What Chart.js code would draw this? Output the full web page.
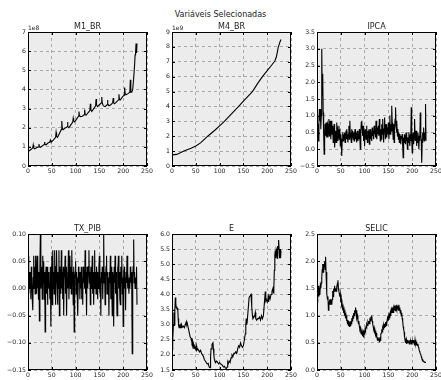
<!DOCTYPE html>
<html>
<head>
<meta charset="utf-8">
<title>Variáveis Selecionadas</title>
<script src="https://cdn.jsdelivr.net/npm/chart.js@4.4.0/dist/chart.umd.min.js"></script>
<style>
    html, body { margin: 0; padding: 0; background: #fff; }
    body { width: 441px; height: 380px; position: relative; overflow: hidden; font-family: "DejaVu Sans", sans-serif; }
    #suptitle { position: absolute; left: 0; top: 11px; width: 441px; text-align: center; font-size: 8px; line-height: 8px; color: #222; }
    canvas { position: absolute; }
</style>
</head>
<body>
<div id="suptitle">Variáveis Selecionadas</div>
<canvas id="c0"></canvas>
<canvas id="c1"></canvas>
<canvas id="c2"></canvas>
<canvas id="c3"></canvas>
<canvas id="c4"></canvas>
<canvas id="c5"></canvas>
<script>
// x axis ticks (shared by all panels)
const X_TICKS = [0, 50, 100, 150, 200, 250];

// M1_BR (units of 1e8), read at selected months
const M1_X = [0, 4, 8, 10, 11, 12, 14, 18, 22, 23, 24, 26, 30, 34, 35, 36, 38, 42, 46, 47, 48, 50, 54, 58, 59, 60, 62, 66, 70, 71, 72, 74, 78, 82, 83, 84, 86, 90, 94, 95, 96, 98, 102, 106, 107, 108, 110, 114, 118, 119, 120, 122, 126, 130, 131, 132, 134, 138, 142, 143, 144, 146, 150, 154, 155, 156, 158, 162, 166, 167, 168, 170, 174, 178, 179, 180, 182, 186, 190, 191, 192, 194, 198, 202, 203, 204, 206, 210, 214, 215, 216, 218, 220, 222, 224, 225, 226, 227, 228, 229];
const M1_Y = [0.75, 0.82, 0.9, 0.95, 1.1, 0.95, 0.9, 0.95, 1.0, 1.15, 1.0, 0.97, 1.05, 1.12, 1.25, 1.12, 1.1, 1.2, 1.26, 1.35, 1.28, 1.27, 1.38, 1.5, 1.75, 1.55, 1.5, 1.7, 1.9, 2.35, 2.0, 1.9, 1.98, 2.05, 2.3, 2.05, 2.0, 2.15, 2.3, 2.5, 2.35, 2.3, 2.45, 2.6, 2.85, 2.65, 2.58, 2.6, 2.68, 2.95, 2.7, 2.65, 2.78, 2.9, 3.25, 2.95, 2.85, 3.0, 3.15, 3.5, 3.2, 3.1, 3.2, 3.3, 3.6, 3.3, 3.15, 3.1, 3.2, 3.45, 3.25, 3.15, 3.2, 3.3, 3.55, 3.3, 3.25, 3.35, 3.45, 3.75, 3.5, 3.45, 3.6, 3.7, 4.1, 3.8, 3.72, 3.78, 3.85, 4.5, 3.85, 3.85, 4.0, 4.6, 5.3, 5.8, 5.9, 6.4, 5.9, 6.4];

// M4_BR (units of 1e9)
const M4_X = [0, 10, 25, 40, 50, 60, 75, 90, 100, 110, 125, 140, 150, 160, 169, 180, 190, 200, 210, 216, 219, 221, 223, 225, 227, 229];
const M4_Y = [0.75, 0.78, 1.0, 1.2, 1.35, 1.55, 2.0, 2.4, 2.7, 3.0, 3.5, 4.0, 4.35, 4.7, 5.0, 5.55, 6.0, 6.4, 6.8, 7.05, 7.3, 7.6, 7.95, 8.15, 8.35, 8.5];

// IPCA, monthly from month 0
const IPCA = [
    0.55, 0.35, 0.75, 0.25, 0.8, 1.2, 0.85, 1.2, 0.6, 1.0,
    3.0, 1.6, 2.25, 1.1, 0.45, -0.15, 0.3, 0.75, 0.4, 0.8,
    0.35, 0.65, 0.75, 0.35, 0.55, 0.9, 0.4, 0.7, 0.85, 0.3,
    0.6, 0.85, 0.45, 0.7, 0.2, 0.5, 0.75, 0.05, 0.35, 0.55,
    0.2, 0.8, 0.5, 0.6, 0.25, 0.45, 0.7, 0.3, 0.6, 0.1,
    0.45, 0.25, -0.2, 0.3, 0.5, 0.25, 0.45, 0.3, 0.5, 0.2,
    0.4, 0.55, 0.3, 0.6, 0.35, 0.2, 0.45, 0.7, 0.3, 0.85,
    0.4, 0.5, 0.2, 0.6, 0.35, 0.55, 0.3, 0.5, 0.25, 0.45,
    0.6, 0.3, 0.5, 0.2, 0.4, 0.55, 0.25, 0.45, 0.3, 0.6,
    0.35, 0.0, 0.5, 0.8, 0.85, 0.6, 0.4, 0.7, 0.25, 0.55,
    0.1, 0.6, 0.5, 0.3, 0.7, 0.45, 0.2, 0.55, 0.35, 0.6,
    0.15, 0.45, 0.6, 0.3, 0.5, 0.25, 0.65, 0.4, 0.55, 0.3,
    0.7, 0.45, 0.6, 0.35, 0.85, 0.5, 0.3, 0.65, 0.45, 0.7,
    0.4, 0.9, 0.55, 0.25, 0.6, 0.3, 0.75, 0.45, 0.9, 0.5,
    0.2, 0.6, 0.95, 0.55, 0.3, 0.75, 0.5, 0.35, 0.65, 0.45,
    0.8, 0.3, 0.6, 1.0, 0.45, 0.75, 0.55, 1.3, 0.8, 0.6,
    0.3, 0.75, 0.2, 0.6, 0.9, 1.25, 0.7, 0.5, 0.85, 0.4,
    0.6, 0.3, 0.5, 0.2, 0.45, 0.35, 0.15, 0.4, 0.3, 0.45,
    0.1, -0.25, 0.35, 0.2, 0.45, 0.3, 0.15, 0.5, 0.25, 0.4,
    0.0, 0.35, 0.2, 0.5, 0.3, 0.1, 0.45, 0.25, 1.25, 0.3,
    -0.1, 0.4, 0.5, 0.15, 0.3, 0.9, 0.4, 0.25, 0.55, 0.1,
    0.35, 0.2, 0.5, 0.3, 0.0, 0.4, 0.25, 1.1, 0.45, 0.3,
    -0.4, 0.2, 0.5, 0.3, 0.65, 0.25, 0.5, 0.3, 1.35, 0.25
];

// TX_PIB, monthly from month 0
const TX_PIB = [
    0.01, 0.06, -0.01, 0.03, 0.0, 0.03, -0.02, 0.04, 0.02, -0.02,
    -0.04, 0.02, 0.06, 0.0, 0.04, -0.01, 0.06, 0.02, -0.01, 0.06,
    0.0, 0.04, -0.02, 0.03, -0.06, 0.04, 0.10, 0.0, 0.02, 0.04,
    -0.02, 0.06, 0.01, 0.05, -0.02, 0.03, -0.08, 0.02, 0.04, -0.01,
    0.04, -0.03, 0.02, 0.03, 0.0, 0.01, -0.02, 0.04, -0.07, 0.02,
    0.06, -0.03, 0.07, 0.0, 0.03, -0.01, 0.07, 0.02, -0.03, 0.04,
    0.07, 0.01, -0.03, 0.03, 0.0, 0.07, -0.05, 0.04, 0.02, -0.01,
    0.07, 0.0, 0.03, -0.02, 0.04, -0.05, 0.03, 0.02, 0.06, -0.01,
    0.04, -0.05, 0.02, 0.03, 0.0, 0.07, -0.02, 0.03, 0.06, 0.0,
    0.04, -0.01, 0.07, 0.01, 0.03, -0.03, 0.04, -0.08, 0.02, 0.03,
    0.05, -0.01, 0.03, 0.0, 0.02, -0.05, 0.04, 0.01, 0.03, -0.02,
    0.03, 0.0, 0.04, -0.02, 0.02, -0.03, 0.04, 0.01, 0.03, 0.0,
    0.07, -0.01, 0.03, -0.05, 0.04, 0.02, 0.0, 0.04, 0.07, 0.01,
    0.03, -0.03, 0.04, 0.0, 0.02, 0.06, -0.01, 0.03, -0.03, 0.02,
    0.07, 0.0, 0.03, -0.01, 0.04, 0.02, -0.02, 0.03, 0.0, 0.04,
    0.06, -0.01, 0.02, -0.05, 0.03, 0.01, 0.04, -0.02, 0.03, 0.10,
    0.01, 0.03, -0.03, 0.02, 0.04, 0.06, -0.01, 0.03, 0.0, 0.02,
    -0.05, 0.03, 0.01, 0.06, -0.02, 0.04, 0.0, -0.05, 0.03, 0.02,
    -0.07, 0.04, 0.01, 0.06, -0.01, 0.03, 0.0, -0.05, 0.04, 0.02,
    0.06, 0.0, 0.03, -0.02, -0.03, 0.04, 0.01, 0.06, -0.01, 0.02,
    -0.07, 0.03, 0.04, 0.0, 0.02, -0.04, 0.03, 0.01, 0.06, 0.0,
    0.03, 0.01, -0.01, 0.02, 0.0, 0.04, 0.01, 0.03, 0.0, -0.12,
    0.02, 0.04, 0.09, 0.01, 0.03, 0.0, 0.02, 0.01, 0.04, -0.03
];

// E, read at selected months
const E_X = [0, 1, 2, 3, 4, 5, 6, 7, 8, 9, 10, 11, 12, 13, 14, 15, 16, 17, 18, 19, 20, 22, 24, 26, 28, 30, 31, 32, 34, 36, 38, 40, 42, 43, 44, 45, 46, 47, 48, 50, 51, 52, 54, 56, 58, 60, 62, 64, 66, 68, 70, 72, 74, 76, 78, 80, 81, 82, 84, 86, 87, 88, 89, 90, 92, 94, 96, 98, 100, 102, 104, 106, 108, 110, 112, 114, 116, 117, 118, 120, 122, 124, 126, 128, 130, 132, 134, 136, 138, 140, 142, 144, 146, 148, 150, 152, 154, 155, 156, 157, 158, 160, 162, 164, 166, 167, 168, 169, 170, 172, 174, 175, 176, 178, 180, 182, 184, 186, 188, 190, 192, 194, 196, 197, 198, 200, 202, 203, 204, 206, 208, 210, 212, 213, 214, 215, 216, 217, 218, 219, 220, 221, 222, 223, 224, 225, 226, 227, 228, 229];
const E_Y = [2.4, 2.3, 2.5, 3.0, 3.4, 3.0, 3.5, 3.9, 3.7, 3.55, 3.6, 3.5, 3.55, 3.2, 2.95, 2.9, 3.0, 2.9, 2.95, 2.9, 3.0, 2.92, 2.95, 2.9, 3.0, 3.1, 3.0, 3.05, 2.9, 2.75, 2.6, 2.55, 2.4, 2.45, 2.3, 2.35, 2.2, 2.3, 2.25, 2.2, 2.3, 2.15, 2.2, 2.15, 2.1, 2.15, 2.05, 2.0, 1.95, 1.85, 1.8, 1.75, 1.7, 1.72, 1.6, 1.58, 1.9, 2.2, 2.35, 2.4, 2.2, 2.0, 1.85, 1.8, 1.75, 1.8, 1.75, 1.7, 1.75, 1.7, 1.68, 1.65, 1.6, 1.62, 1.57, 1.55, 1.6, 1.75, 1.7, 1.8, 1.75, 1.9, 2.0, 1.95, 2.05, 2.05, 2.1, 2.05, 2.2, 2.3, 2.25, 2.4, 2.3, 2.25, 2.3, 2.5, 2.7, 3.0, 3.2, 3.0, 3.1, 3.5, 3.9, 3.95, 4.0, 3.8, 3.6, 3.3, 3.2, 3.25, 3.3, 3.4, 3.2, 3.15, 3.2, 3.2, 3.25, 3.15, 3.3, 3.2, 3.3, 3.7, 4.1, 3.8, 3.85, 3.75, 3.9, 3.75, 3.95, 3.85, 4.0, 4.1, 4.2, 4.05, 4.2, 4.8, 5.3, 5.45, 5.2, 5.5, 5.45, 5.2, 5.6, 5.5, 5.8, 5.5, 5.2, 5.5, 5.2, 5.45];

// SELIC, monthly from month 0
const SELIC = [
    1.25, 1.45, 1.35, 1.55, 1.35, 1.45, 1.38, 1.55, 1.5, 1.6,
    1.7, 1.85, 1.95, 1.8, 1.95, 1.9, 2.0, 1.85, 2.08, 1.8,
    1.6, 1.4, 1.3, 1.35, 1.1, 1.2, 1.25, 1.2, 1.3, 1.2,
    1.25, 1.2, 1.3, 1.45, 1.35, 1.5, 1.45, 1.55, 1.45, 1.5,
    1.45, 1.55, 1.5, 1.6, 1.65, 1.5, 1.45, 1.4, 1.35, 1.4,
    1.25, 1.3, 1.15, 1.2, 1.1, 1.15, 1.05, 1.1, 1.0, 1.05,
    0.95, 1.0, 0.9, 0.95, 0.85, 0.92, 0.82, 0.9, 0.8, 0.88,
    0.82, 0.9, 0.85, 0.95, 0.9, 1.0, 0.95, 1.05, 1.0, 1.1,
    1.05, 1.15, 1.05, 1.1, 0.95, 1.0, 0.9, 0.85, 0.9, 0.8,
    0.75, 0.78, 0.7, 0.72, 0.65, 0.7, 0.62, 0.68, 0.6, 0.7,
    0.68, 0.75, 0.72, 0.8, 0.78, 0.85, 0.82, 0.88, 0.85, 0.9,
    0.85, 0.92, 0.9, 0.98, 0.92, 1.0, 0.9, 0.85, 0.8, 0.75,
    0.78, 0.7, 0.72, 0.65, 0.68, 0.6, 0.62, 0.55, 0.6, 0.55,
    0.58, 0.52, 0.6, 0.55, 0.65, 0.68, 0.72, 0.7, 0.78, 0.75,
    0.82, 0.78, 0.85, 0.8, 0.88, 0.82, 0.9, 0.85, 0.95, 0.9,
    0.98, 0.92, 1.0, 0.95, 1.05, 1.0, 1.1, 1.05, 1.15, 1.05,
    1.12, 1.05, 1.15, 1.1, 1.18, 1.08, 1.15, 1.1, 1.2, 1.12,
    1.18, 1.1, 1.2, 1.1, 1.15, 1.05, 1.1, 1.0, 1.05, 0.95,
    0.9, 0.8, 0.75, 0.7, 0.6, 0.55, 0.5, 0.55, 0.48, 0.55,
    0.5, 0.55, 0.5, 0.53, 0.48, 0.55, 0.5, 0.52, 0.48, 0.55,
    0.5, 0.53, 0.5, 0.55, 0.5, 0.45, 0.55, 0.48, 0.52, 0.45,
    0.5, 0.45, 0.48, 0.42, 0.4, 0.35, 0.33, 0.3, 0.28, 0.25,
    0.22, 0.2, 0.18, 0.17, 0.16, 0.15, 0.15, 0.14, 0.14, 0.14
];

// Layout of the 2x3 grid (page pixels)
const COL_LEFT = [28, 172, 317];
const PLOT_W = 119;
const ROW_TOP = [32, 234];
const ROW_H = [134, 136];
const PAD_L = 26, PAD_T = 14, PAD_R = 10, PAD_B = 12;

const FONT = '"DejaVu Sans", sans-serif';
const TEXT_COLOR = "#222";
const PANEL_BG = "#ececec";
const GRID_COLOR = "#a8a8a8";

const minus = s => s.replace("-", "\u2212");
const fmtInt = v => minus(String(Math.round(v)));
const fmt1 = v => minus((Math.abs(v) < 1e-9 ? 0 : v).toFixed(1));
const fmt2 = v => minus((Math.abs(v) < 1e-9 ? 0 : v).toFixed(2));

const pairs = (xs, ys) => xs.map((x, i) => ({x: x, y: ys[i]}));
const indexed = ys => ys.map((y, i) => ({x: i, y: y}));

// Matplotlib-like panel: grey face, black frame, inward ticks, title, offset text
const mplPanel = {
    id: "mplPanel",
    beforeDraw(chart) {
        const {ctx, chartArea: a} = chart;
        ctx.save();
        ctx.fillStyle = PANEL_BG;
        ctx.fillRect(a.left, a.top, a.right - a.left, a.bottom - a.top);
        ctx.restore();
    },
    afterDraw(chart, args, opts) {
        const {ctx, chartArea: a, scales} = chart;
        ctx.save();
        ctx.strokeStyle = "#000";
        ctx.lineWidth = 1;
        ctx.beginPath();
        scales.x.ticks.forEach(t => {
            const px = Math.round(scales.x.getPixelForValue(t.value)) + 0.5;
            ctx.moveTo(px, a.top); ctx.lineTo(px, a.top + 3);
            ctx.moveTo(px, a.bottom); ctx.lineTo(px, a.bottom - 3);
        });
        scales.y.ticks.forEach(t => {
            const py = Math.round(scales.y.getPixelForValue(t.value)) + 0.5;
            ctx.moveTo(a.left, py); ctx.lineTo(a.left + 3, py);
            ctx.moveTo(a.right, py); ctx.lineTo(a.right - 3, py);
        });
        ctx.stroke();
        ctx.strokeRect(a.left + 0.5, a.top + 0.5, a.right - a.left - 1, a.bottom - a.top - 1);

        ctx.fillStyle = TEXT_COLOR;
        ctx.textBaseline = "alphabetic";
        ctx.font = "8px " + FONT;
        ctx.textAlign = "center";
        ctx.fillText(opts.title, (a.left + a.right) / 2, a.top - 3);
        if (opts.offset) {
            ctx.font = "6px " + FONT;
            ctx.textAlign = "left";
            ctx.fillText(opts.offset, a.left, a.top - 2);
        }
        ctx.restore();
    }
};

const PANELS = [
    {title: "M1_BR", offset: "1e8", data: pairs(M1_X, M1_Y), yMin: 0, yMax: 7, yStep: 1, fmt: fmtInt, col: 0, row: 0},
    {title: "M4_BR", offset: "1e9", data: pairs(M4_X, M4_Y), yMin: 0, yMax: 9, yStep: 1, fmt: fmtInt, col: 1, row: 0},
    {title: "IPCA", offset: "", data: indexed(IPCA), yMin: -0.5, yMax: 3.5, yStep: 0.5, fmt: fmt1, col: 2, row: 0},
    {title: "TX_PIB", offset: "", data: indexed(TX_PIB), yMin: -0.15, yMax: 0.10, yStep: 0.05, fmt: fmt2, col: 0, row: 1},
    {title: "E", offset: "", data: pairs(E_X, E_Y), yMin: 1.5, yMax: 6.0, yStep: 0.5, fmt: fmt1, col: 1, row: 1},
    {title: "SELIC", offset: "", data: indexed(SELIC), yMin: 0, yMax: 2.5, yStep: 0.5, fmt: fmt1, col: 2, row: 1}
];

PANELS.forEach((p, i) => {
    const canvas = document.getElementById("c" + i);
    const w = PLOT_W + PAD_L + PAD_R;
    const h = ROW_H[p.row] + PAD_T + PAD_B;
    canvas.width = w;
    canvas.height = h;
    canvas.style.left = (COL_LEFT[p.col] - PAD_L) + "px";
    canvas.style.top = (ROW_TOP[p.row] - PAD_T) + "px";
    canvas.style.width = w + "px";
    canvas.style.height = h + "px";

    const tickFont = {family: FONT, size: 6.2};
    new Chart(canvas.getContext("2d"), {
        type: "line",
        data: {
            datasets: [{
                data: p.data,
                borderColor: "#000",
                borderWidth: 1.1,
                pointRadius: 0,
                tension: 0,
                fill: false
            }]
        },
        options: {
            responsive: false,
            animation: false,
            events: [],
            layout: {padding: {top: PAD_T, right: PAD_R, left: 0, bottom: 0}},
            plugins: {
                legend: {display: false},
                tooltip: {enabled: false},
                mplPanel: {title: p.title, offset: p.offset}
            },
            scales: {
                x: {
                    type: "linear",
                    min: X_TICKS[0],
                    max: X_TICKS[X_TICKS.length - 1],
                    afterFit(s) { s.height = PAD_B; },
                    afterBuildTicks(s) { s.ticks = X_TICKS.map(v => ({value: v})); },
                    ticks: {font: tickFont, color: TEXT_COLOR, padding: 2, maxRotation: 0, autoSkip: false, callback: v => fmtInt(v)},
                    grid: {color: GRID_COLOR, lineWidth: 1, drawTicks: false},
                    border: {display: false, dash: [3, 3]}
                },
                y: {
                    type: "linear",
                    min: p.yMin,
                    max: p.yMax,
                    afterFit(s) { s.width = PAD_L; },
                    ticks: {stepSize: p.yStep, font: tickFont, color: TEXT_COLOR, padding: 2, autoSkip: false, callback: v => p.fmt(v)},
                    grid: {color: GRID_COLOR, lineWidth: 1, drawTicks: false},
                    border: {display: false, dash: [3, 3]}
                }
            }
        },
        plugins: [mplPanel]
    });
});
</script>
</body>
</html>
